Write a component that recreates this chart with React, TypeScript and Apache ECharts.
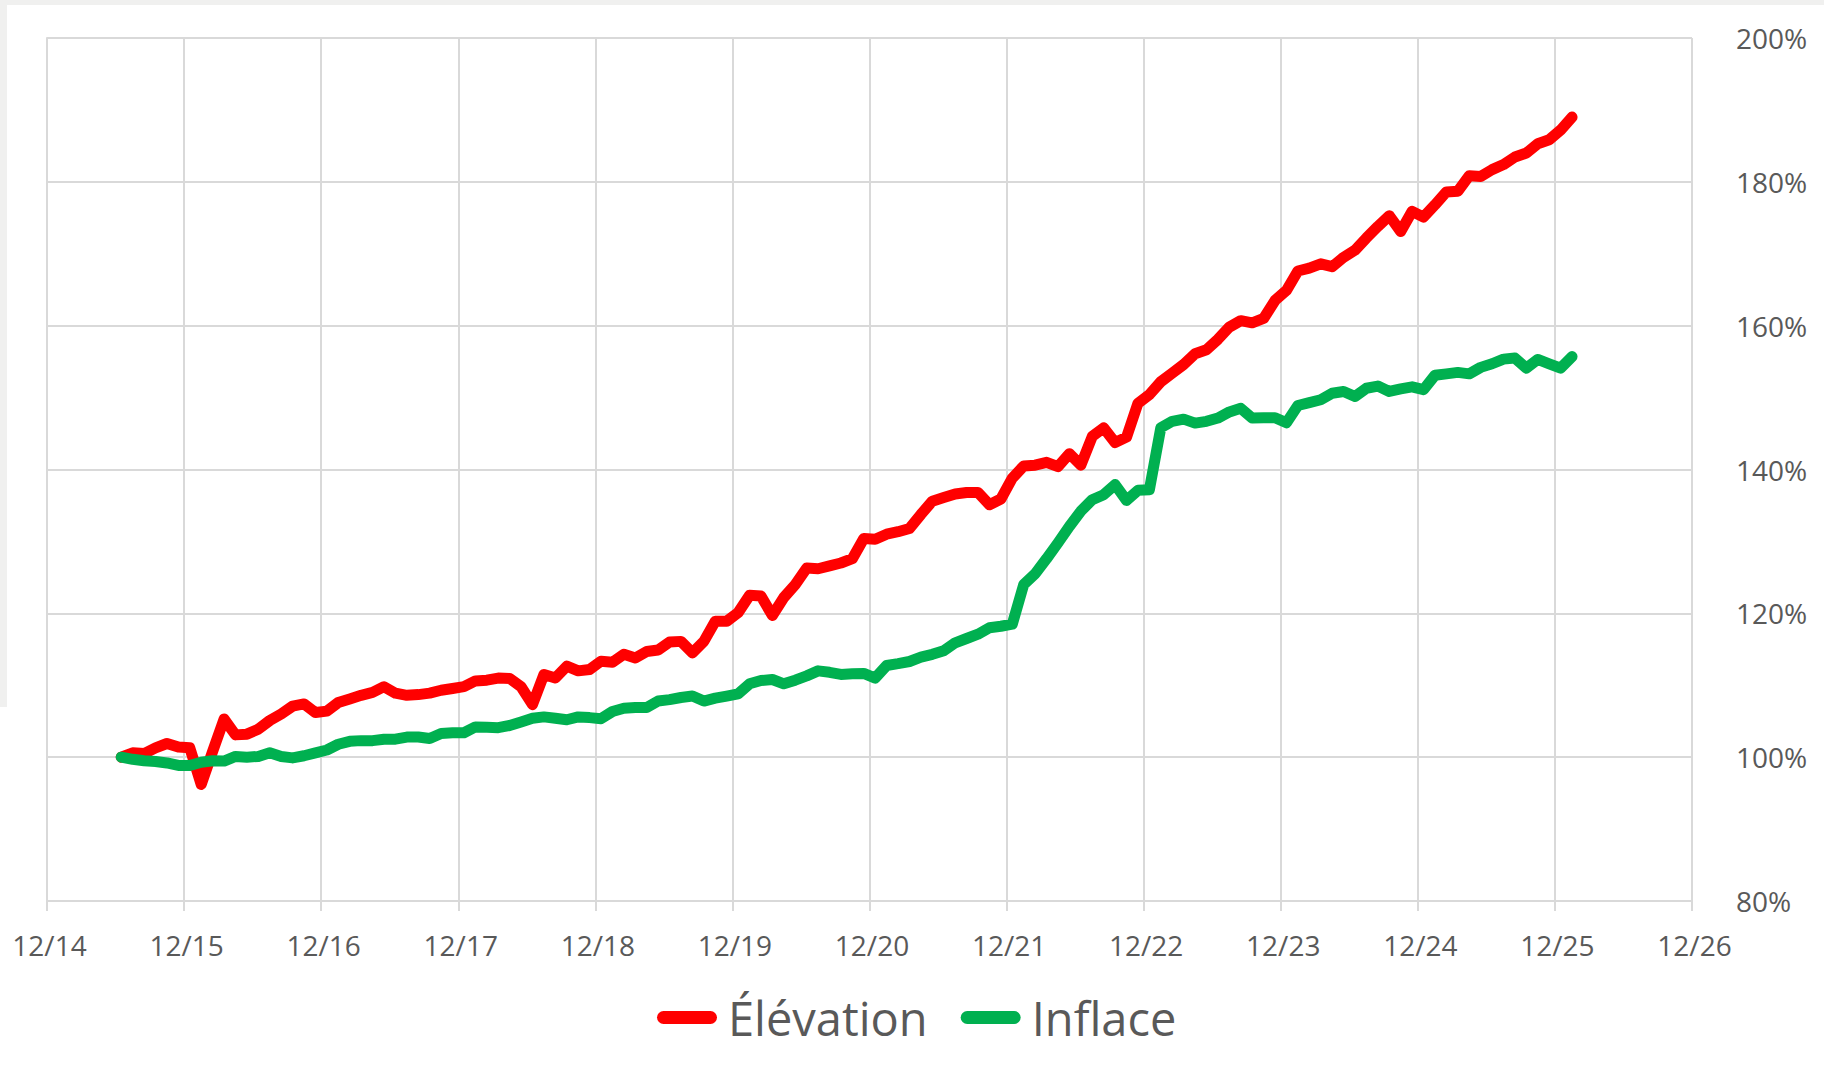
import React, { useEffect, useRef } from "react";
import * as echarts from "echarts";

// Monthly series, first month 2015-06, last 2026-01
const startYear = 2015;
const startMonth = 6;

const elevace = [
  100.0, 100.6, 100.5, 101.3, 101.9, 101.4, 101.3, 96.2, 100.8, 105.3,
  103.1, 103.2, 103.9, 105.1, 106.0, 107.1, 107.4, 106.2, 106.4, 107.6,
  108.1, 108.6, 109.0, 109.8, 108.9, 108.6, 108.7, 108.9, 109.3, 109.55,
  109.8, 110.6, 110.7, 111.0, 110.95, 109.8, 107.3, 111.5, 111.0, 112.65,
  112.0, 112.2, 113.35, 113.2, 114.3, 113.8, 114.7, 114.9, 116.0, 116.1,
  114.5, 116.1, 118.9, 118.9, 120.1, 122.5, 122.4, 119.7, 122.2, 124.0,
  126.3, 126.2, 126.6, 127.0, 127.6, 130.4, 130.3, 131.0, 131.35, 131.8,
  133.75, 135.6, 136.1, 136.6, 136.8, 136.8, 135.1, 135.9, 138.8, 140.5,
  140.6, 141.0, 140.4, 142.2, 140.6, 144.6, 145.8, 143.75, 144.5, 149.2,
  150.4, 152.2, 153.4, 154.6, 156.1, 156.65, 158.1, 159.8, 160.7, 160.4,
  161.0, 163.5, 164.9, 167.6, 168.0, 168.6, 168.2, 169.5, 170.5, 172.2,
  173.8, 175.3, 173.1, 175.9, 175.1, 176.8, 178.6, 178.7, 180.85, 180.75,
  181.7, 182.4, 183.45, 184.0, 185.3, 185.85, 187.2, 189.0,
];

const inflace = [
  100.0, 99.7, 99.5, 99.4, 99.2, 98.85, 98.85, 99.3, 99.5, 99.45,
  100.1, 100.0, 100.1, 100.6, 100.1, 99.9, 100.2, 100.6, 101.0, 101.8,
  102.2, 102.3, 102.3, 102.5, 102.5, 102.8, 102.8, 102.6, 103.3, 103.4,
  103.4, 104.2, 104.15, 104.1, 104.4, 104.9, 105.4, 105.6, 105.4, 105.2,
  105.6, 105.5, 105.35, 106.35, 106.8, 106.9, 106.9, 107.8, 108.0, 108.3,
  108.5, 107.8, 108.2, 108.5, 108.8, 110.2, 110.65, 110.8, 110.2, 110.7,
  111.3, 112.0, 111.8, 111.5, 111.6, 111.65, 111.0, 112.75, 113.0, 113.3,
  113.9, 114.3, 114.8, 115.9, 116.5, 117.1, 118.0, 118.2, 118.5, 124.0,
  125.5, 127.6, 129.8, 132.1, 134.2, 135.8, 136.5, 137.9, 135.7, 137.1,
  137.2, 145.8, 146.7, 147.0, 146.45, 146.7, 147.15, 148.0, 148.5, 147.15,
  147.2, 147.2, 146.5, 148.9, 149.3, 149.7, 150.6, 150.85, 150.15, 151.3,
  151.6, 150.85, 151.2, 151.5, 151.1, 153.1, 153.3, 153.5, 153.3, 154.2,
  154.7, 155.35, 155.5, 154.1, 155.3, 154.7, 154.1, 155.7,
];

const xTickLabels = [
  "12/14", "12/15", "12/16", "12/17", "12/18", "12/19", "12/20",
  "12/21", "12/22", "12/23", "12/24", "12/25", "12/26",
];

const seriesNames = ["Élévation", "Inflace"];
const seriesColors = ["#ff0000", "#00b050"];

// month strings "YYYY-MM"
const months = elevace.map((_, i) => {
  const t = startMonth - 1 + i;
  return `${startYear + Math.floor(t / 12)}-${String((t % 12) + 1).padStart(2, "0")}`;
});

// position on the axis: months since 2014-12, points sit mid-month
const monthPos = (ym: string) => {
  const [y, m] = ym.split("-").map(Number);
  return (y - 2014) * 12 + (m - 12) + 0.5;
};

const FONT = "'Open Sans', 'Noto Sans', sans-serif";
const TXT = "#595959";
const GRID = "#d9d9d9";

export default function App() {
  const ref = useRef<HTMLDivElement>(null);

  useEffect(() => {
    if (!ref.current) return;
    const chart = echarts.init(ref.current, undefined, { renderer: "svg" });
    const capsule = "path://M6.5,0 H53.5 A6.5,6.5 0 0 1 53.5,13 H6.5 A6.5,6.5 0 0 1 6.5,0 Z";
    chart.setOption({
      animation: false,
      backgroundColor: "transparent",
      grid: { left: 47, right: 132, top: 38, bottom: 170, containLabel: false },
      xAxis: {
        type: "value",
        min: 0,
        max: 144,
        interval: 12,
        axisLine: { show: true, lineStyle: { color: GRID, width: 2 } },
        axisTick: { show: true, length: 10, lineStyle: { color: GRID, width: 2 } },
        splitLine: { show: true, lineStyle: { color: GRID, width: 2 } },
        axisLabel: {
          margin: 30,
          fontFamily: FONT,
          fontSize: 28,
          color: TXT,
          padding: [0, 0, 0, 5],
          formatter: (v: number) => xTickLabels[Math.round(v / 12)] ?? "",
        },
      },
      yAxis: {
        type: "value",
        position: "right",
        min: 80,
        max: 200,
        interval: 20,
        axisLine: { show: true, lineStyle: { color: GRID, width: 2 } },
        axisTick: { show: true, length: 10, lineStyle: { color: GRID, width: 2 } },
        splitLine: { show: true, lineStyle: { color: GRID, width: 2 } },
        axisLabel: {
          margin: 44,
          fontFamily: FONT,
          fontSize: 28,
          color: TXT,
          formatter: (v: number) => `${v}%`,
        },
      },
      legend: {
        left: 652,
        top: 989,
        itemWidth: 60,
        itemHeight: 13,
        itemGap: 33,
        icon: capsule,
        textStyle: {
          fontFamily: FONT,
          fontSize: 47,
          color: TXT,
          padding: [0, 0, 0, 6],
        },
        data: seriesNames,
      },
      series: [elevace, inflace].map((vals, si) => ({
        name: seriesNames[si],
        type: "line",
        showSymbol: false,
        symbol: "none",
        color: seriesColors[si],
        lineStyle: { color: seriesColors[si], width: 11, cap: "round", join: "round" },
        data: months.map((m, i) => [monthPos(m), vals[i]]),
      })),
    });
    return () => chart.dispose();
  }, []);

  return (
    <div
      style={{
        position: "fixed",
        left: 0,
        top: 0,
        width: 1824,
        height: 1071,
        background: "#ffffff",
        overflow: "hidden",
      }}
    >
      <div style={{ position: "absolute", left: 0, top: 0, width: 1824, height: 5, background: "#f0f0ef" }} />
      <div style={{ position: "absolute", left: 0, top: 0, width: 7, height: 707, background: "#f0f0ef" }} />
      <div ref={ref} style={{ position: "absolute", left: 0, top: 0, width: 1824, height: 1071 }} />
    </div>
  );
}
